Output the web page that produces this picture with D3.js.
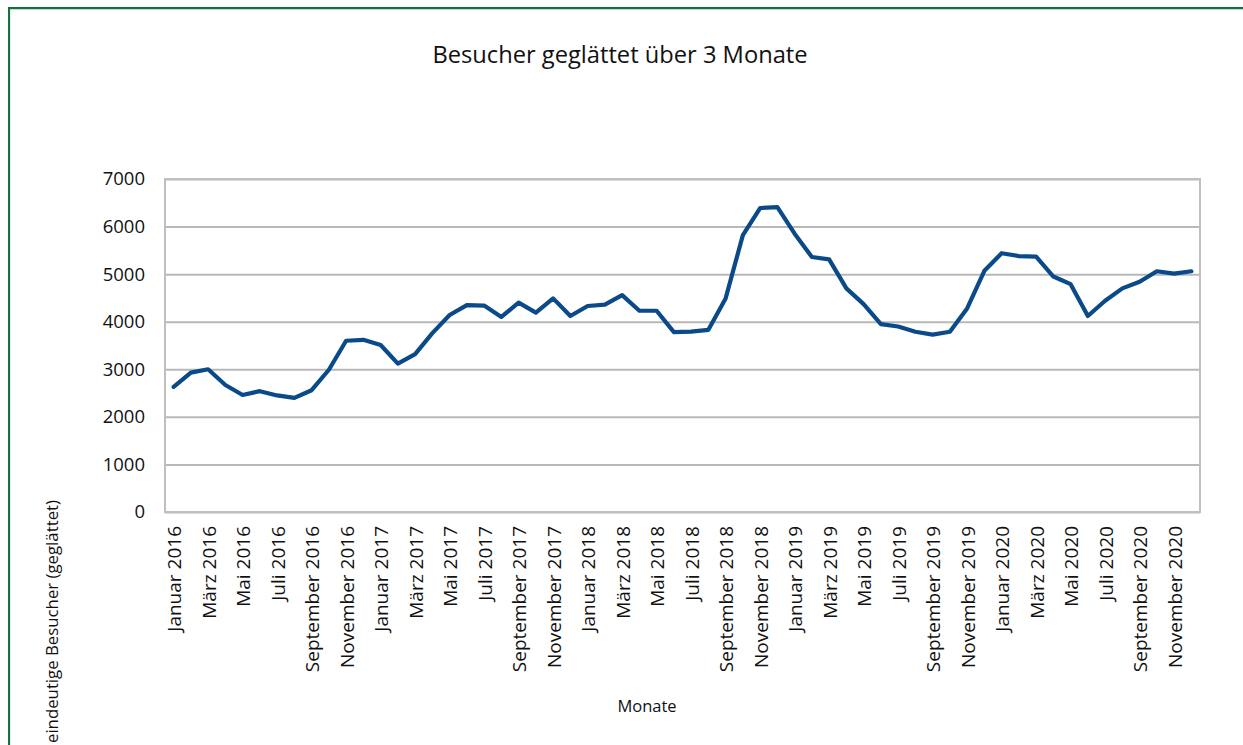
<!DOCTYPE html>
<html>
<head>
<meta charset="utf-8">
<script src="https://cdn.jsdelivr.net/npm/d3@7"></script>
<style>
  body { margin: 0; background: #fff; overflow: hidden; }
  text { font-family: "Open Sans", sans-serif; fill: #111; }
</style>
</head>
<body>
<div id="chart"></div>
<script>
// month names and years for the category axis
const monthNames = ["Januar", "Februar", "März", "April", "Mai", "Juni", "Juli", "August", "September", "Oktober", "November", "Dezember"];
const years = [2016, 2017, 2018, 2019, 2020];

// visitors, smoothed over 3 months
const visitors = [
    2630, 2930, 3000, 2670, 2460, 2540, 2450, 2400, 2560, 2990, 3600, 3620,
    3510, 3120, 3320, 3760, 4140, 4350, 4340, 4100, 4400, 4190, 4490, 4120,
    4330, 4360, 4560, 4230, 4230, 3780, 3790, 3830, 4490, 5820, 6390, 6410,
    5850, 5360, 5310, 4700, 4370, 3950, 3900, 3790, 3730, 3790, 4280, 5070,
    5440, 5380, 5370, 4950, 4790, 4120, 4440, 4700, 4840, 5060, 5010, 5060
];

const yTicks = [0, 1000, 2000, 3000, 4000, 5000, 6000, 7000];

const categories = [];
years.forEach(y => monthNames.forEach(m => categories.push(m + " " + y)));

const W = 1243, H = 745;
const plot = { left: 165, right: 1200, top: 179, bottom: 512 };

const svg = d3.select("#chart")
    .append("svg")
    .attr("width", W)
    .attr("height", H);

// outer green frame (only top and left are visible in the picture)
svg.append("rect")
    .attr("x", 10).attr("y", 9.5)
    .attr("width", W + 20).attr("height", H + 20)
    .attr("fill", "none")
    .attr("stroke", "#b9e3c6")
    .attr("stroke-width", 1);
svg.append("rect")
    .attr("x", 9).attr("y", 8)
    .attr("width", W + 20).attr("height", H + 20)
    .attr("fill", "none")
    .attr("stroke", "#17703f")
    .attr("stroke-width", 2);

const x = d3.scaleBand()
    .domain(categories)
    .range([plot.left, plot.right])
    .padding(0);

const y = d3.scaleLinear()
    .domain([0, 7000])
    .range([plot.bottom, plot.top]);

// gridlines
svg.append("g")
    .attr("transform", `translate(${plot.left},0)`)
    .call(d3.axisLeft(y).tickValues(yTicks).tickSize(-(plot.right - plot.left)).tickFormat(""))
    .call(g => g.select(".domain").remove())
    .call(g => g.selectAll("line").attr("stroke", "#b8b8b8").attr("stroke-width", 2));

// plot frame
svg.append("rect")
    .attr("x", plot.left).attr("y", plot.top)
    .attr("width", plot.right - plot.left)
    .attr("height", plot.bottom - plot.top)
    .attr("fill", "none")
    .attr("stroke", "#bfbfbf")
    .attr("stroke-width", 2);

// y axis labels
svg.append("g")
    .attr("transform", `translate(${plot.left},0)`)
    .call(d3.axisLeft(y).tickValues(yTicks).tickFormat(d3.format("d")).tickSize(0).tickPadding(20))
    .call(g => g.select(".domain").remove())
    .call(g => g.selectAll("text")
        .style("font-family", "'Open Sans', sans-serif")
        .style("font-size", "18.5px")
        .attr("fill", "#111"));

// x axis labels, every second month
const xAxis = svg.append("g")
    .attr("transform", `translate(0,${plot.bottom})`)
    .call(d3.axisBottom(x).tickValues(categories.filter((d, i) => i % 2 == 0)).tickSize(0))
    .call(g => g.select(".domain").remove());

xAxis.selectAll("text")
    .style("font-family", "'Open Sans', sans-serif")
    .style("font-size", "19px")
    .attr("fill", "#111")
    .attr("text-anchor", "end")
    .attr("transform", "translate(1,14) rotate(-90)")
    .attr("x", 0)
    .attr("y", 0)
    .attr("dy", "0.36em");

// the line
const line = d3.line()
    .x((d, i) => x(categories[i]) + x.bandwidth() / 2)
    .y(d => y(d));

svg.append("path")
    .datum(visitors)
    .attr("d", line)
    .attr("fill", "none")
    .attr("stroke", "#0b4a89")
    .attr("stroke-width", 4.2)
    .attr("stroke-linejoin", "round")
    .attr("stroke-linecap", "round");

// titles
svg.append("text")
    .attr("x", 620)
    .attr("y", 63)
    .attr("text-anchor", "middle")
    .style("font-size", "23.7px")
    .text("Besucher geglättet über 3 Monate");

svg.append("text")
    .attr("x", 647)
    .attr("y", 712)
    .attr("text-anchor", "middle")
    .style("font-size", "16.5px")
    .text("Monate");

svg.append("text")
    .attr("transform", "translate(58,500) rotate(-90)")
    .attr("text-anchor", "end")
    .style("font-size", "16.8px")
    .text("eindeutige Besucher (geglättet)");
</script>
</body>
</html>
